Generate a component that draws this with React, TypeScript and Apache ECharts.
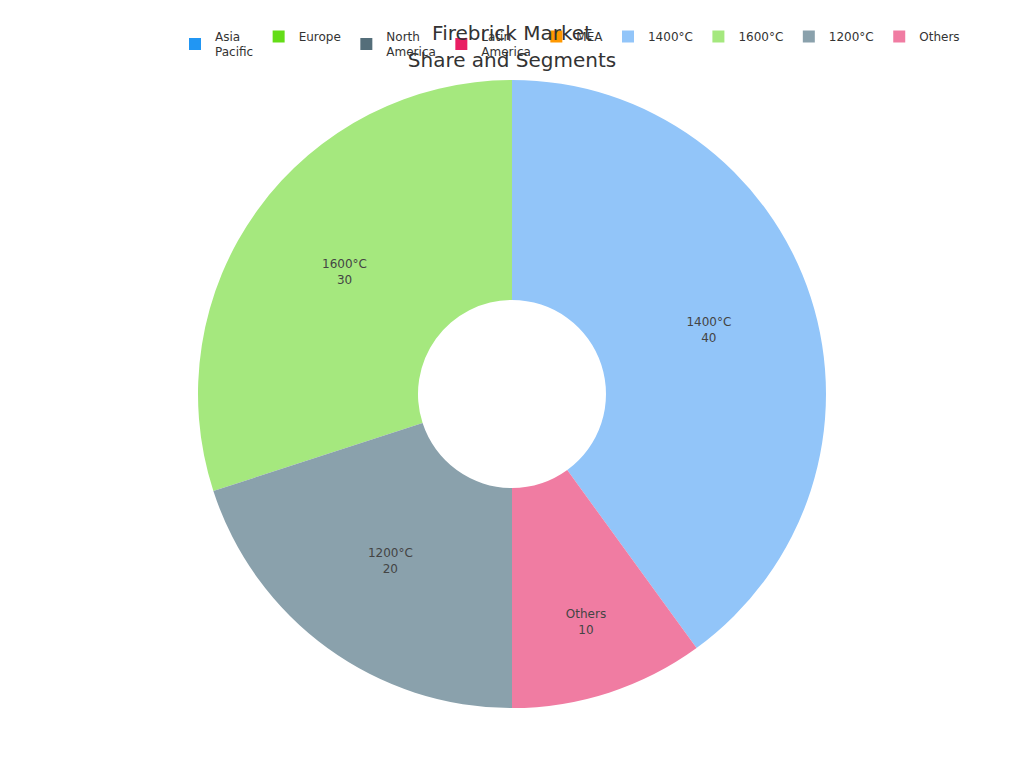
import React, { useEffect, useRef } from "react";
import * as echarts from "echarts";

const titleText = "Firebrick Market\nShare and Segments";

const regionNames = ["Asia Pacific", "Europe", "North America", "Latin America", "MEA"];
const regionColors = ["#2196F3", "#64DD17", "#546E7A", "#E91E63", "#FF9800"];

const segmentNames = ["1400°C", "1600°C", "1200°C", "Others"];
const segmentValues = [40, 30, 20, 10];
const segmentColors = ["#92C5F9", "#A5E87E", "#8AA1AC", "#F07CA2"];

const FONT = "DejaVu Sans";

const legendLabel = (name: string) =>
  regionNames.includes(name) ? name.replace(" ", "\n") : name;

export default function App() {
  const ref = useRef<HTMLDivElement>(null);

  useEffect(() => {
    if (!ref.current) return;
    const chart = echarts.init(ref.current, undefined, { renderer: "svg" });
    const total = segmentValues.reduce((a, b) => a + b, 0);
    const firstSweep = (segmentValues[0] / total) * 360;

    // Lay legend items out in a row, each as its own legend so that every
    // item is top-aligned (two-line labels hang down below one-line ones).
    const canvas = document.createElement("canvas");
    const ctx = canvas.getContext("2d")!;
    ctx.font = `12px "${FONT}"`;
    const allNames = [...regionNames, ...segmentNames];
    const iconW = 12;
    const textGap = 5 + 9;
    const itemGap = 19.5;
    let cursor = 176;
    const legends = allNames.map((name) => {
      const label = legendLabel(name);
      const tw = Math.max(...label.split("\n").map((l) => ctx.measureText(l).width));
      const left = cursor;
      cursor += iconW + textGap + tw + itemGap;
      return {
        data: [name],
        left,
        top: 16,
        itemWidth: 12,
        itemHeight: 12,
        icon: "rect",
        formatter: legendLabel,
        textStyle: {
          fontFamily: FONT,
          fontSize: 12,
          color: "#333",
          lineHeight: 15,
          padding: [0, 0, 0, 9],
        },
      };
    });

    chart.setOption({
      animation: false,
      textStyle: { fontFamily: FONT },
      title: {
        text: titleText,
        left: "center",
        top: 6,
        textStyle: {
          fontFamily: FONT,
          fontSize: 20,
          fontWeight: "normal",
          color: "#333",
          lineHeight: 27,
        },
      },
      legend: legends,
      series: [
        {
          name: "Regions",
          type: "pie",
          radius: [0, 0],
          center: ["50%", 386],
          silent: true,
          stillShowZeroSum: false,
          label: { show: false },
          labelLine: { show: false },
          data: regionNames.map((n, i) => ({
            name: n,
            value: 0,
            itemStyle: { color: regionColors[i] },
          })),
        },
        {
          name: "Segments",
          type: "pie",
          radius: [94, 314],
          center: ["50%", 386],
          clockwise: false,
          startAngle: 90 - firstSweep,
          label: {
            show: true,
            position: "inside",
            formatter: "{b}\n{c}",
            fontFamily: FONT,
            fontSize: 12,
            color: "#444",
            lineHeight: 16,
          },
          labelLine: { show: false },
          data: segmentNames.map((n, i) => ({
            name: n,
            value: segmentValues[i],
            itemStyle: { color: segmentColors[i] },
            ...(n === "Others" ? { label: { offset: [10, 31] } } : {}),
          })),
        },
      ],
    });
    return () => chart.dispose();
  }, []);

  return <div ref={ref} style={{ width: "100%", height: 760 }} />;
}
